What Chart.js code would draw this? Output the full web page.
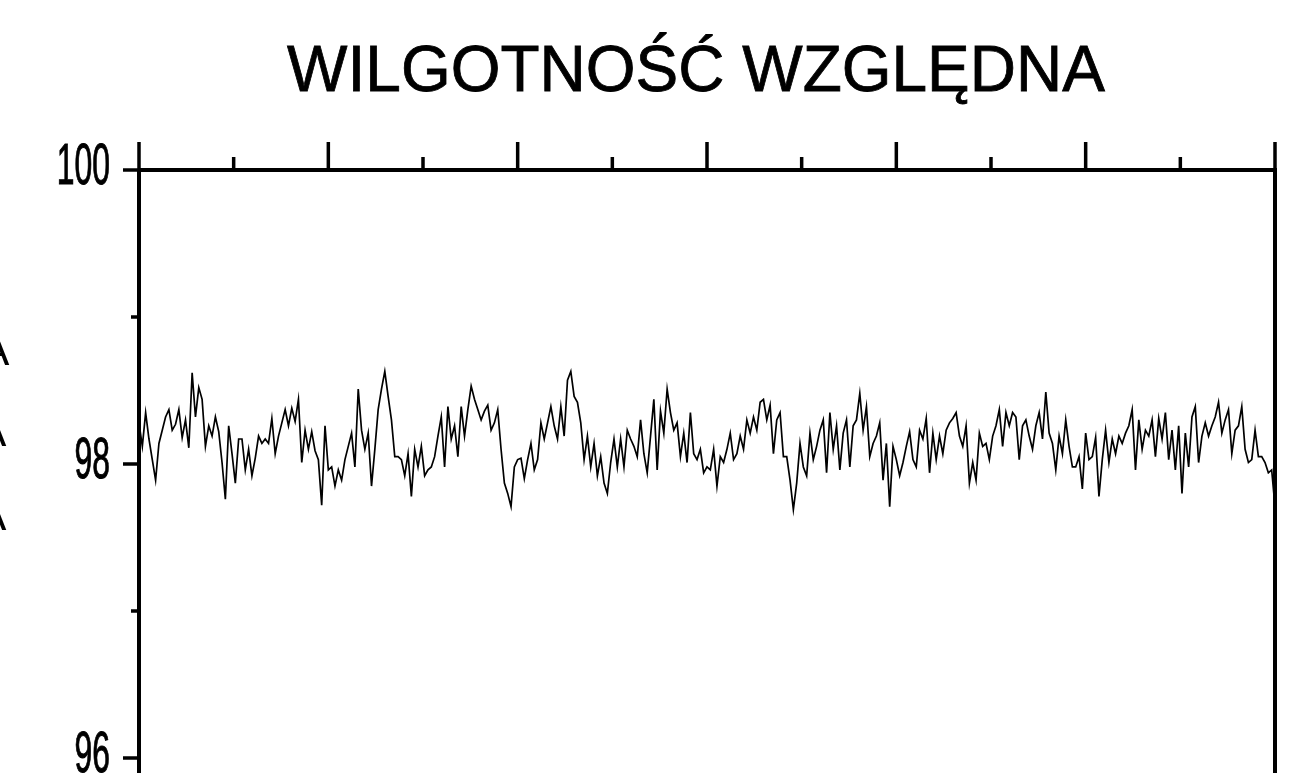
<!DOCTYPE html>
<html>
<head>
<meta charset="utf-8">
<script src="https://cdn.jsdelivr.net/npm/chart.js@4/dist/chart.umd.min.js"></script>
<style>
  html, body { margin:0; padding:0; background:#fff; overflow:hidden; }
  #wrap { width:1314px; height:860px; }
</style>
</head>
<body>
<div id="wrap"><canvas id="rhChart" width="1314" height="860"></canvas></div>
<script>
/* -----------------------
   Dane: wilgotność względna (%), 6 odcinków
   ----------------------- */
const rh1 = [98.28,98.12,98.35,98.17,98.03,97.89,98.14,98.23,98.32,98.37,98.23,98.27,98.37,98.18,98.30,98.11,98.62,98.32,98.52,98.44,98.12,98.26,98.19,98.32,98.22,98.01,97.76,98.26,98.07,97.87,98.17,98.17,97.96,98.10,97.92,98.04,98.19,98.14,98.17,98.14,98.31,98.07,98.19,98.28,98.37,98.26,98.38,98.29,98.44,98.01,98.23,98.10,98.22,98.09,98.03,97.72,98.26];
const rh2 = [97.96,97.98,97.85,97.96,97.89,98.03,98.12,98.21,97.98,98.51,98.23,98.10,98.21,97.85,98.10,98.37,98.51,98.63,98.46,98.30,98.05,98.05,98.03,97.92,98.07,97.78,98.10,97.98,98.12,97.92,97.96,97.98,98.05,98.19,98.32,97.98,98.39,98.17,98.26,98.05,98.39,98.19,98.37,98.53,98.44,98.37,98.30,98.36,98.40,98.23,98.28,98.37,98.10,97.87,97.80,97.71,97.98];
const rh3 = [98.03,98.04,97.90,98.03,98.14,97.96,98.03,98.28,98.17,98.28,98.39,98.26,98.17,98.39,98.19,98.57,98.63,98.46,98.42,98.28,98.03,98.19,97.98,98.14,97.92,98.05,97.87,97.80,98.01,98.17,97.98,98.17,97.98,98.23,98.17,98.12,98.05,98.30,98.07,97.94,98.19,98.44,97.96,98.36,98.21,98.51,98.35,98.23,98.28,98.05,98.21,98.01,98.35,98.07,98.03,98.10,97.94];
const rh4 = [97.98,97.96,98.10,97.85,98.05,98.01,98.10,98.21,98.03,98.07,98.19,98.10,98.30,98.21,98.32,98.23,98.42,98.44,98.30,98.40,98.07,98.30,98.35,98.05,98.05,97.89,97.69,97.87,98.14,97.98,97.92,98.21,98.03,98.12,98.23,98.30,97.94,98.35,98.10,98.26,97.96,98.21,98.30,97.98,98.26,98.30,98.48,98.23,98.39,98.05,98.14,98.19,98.28,97.89,98.14,97.71,98.12];
const rh5 = [98.03,97.92,98.01,98.12,98.22,98.03,97.98,98.23,98.17,98.31,97.94,98.21,98.03,98.19,98.07,98.23,98.28,98.31,98.35,98.19,98.12,98.26,97.87,98.01,97.89,98.21,98.12,98.14,98.03,98.19,98.26,98.37,98.12,98.35,98.26,98.35,98.32,98.03,98.26,98.30,98.19,98.10,98.26,98.35,98.17,98.49,98.21,98.14,97.96,98.19,98.07,98.30,98.12,97.98,97.98,98.05,97.83];
const rh6 = [98.21,98.03,98.05,98.18,97.78,98.03,98.23,98.01,98.17,98.07,98.19,98.14,98.21,98.26,98.37,97.96,98.30,98.10,98.23,98.19,98.30,98.05,98.31,98.17,98.35,98.03,98.23,97.96,98.26,97.80,98.21,97.98,98.32,98.39,98.01,98.19,98.28,98.19,98.26,98.32,98.42,98.21,98.30,98.37,98.07,98.23,98.26,98.39,98.10,98.01,98.03,98.23,98.05,98.05,98.01,97.94,97.96,97.71];

const rhValues = [...rh1, ...rh2, ...rh3, ...rh4, ...rh5, ...rh6];

// osie
const xMajorTicks = [0, 57, 114, 171, 228, 285, 342];
const xMinorTicks = [28.5, 85.5, 142.5, 199.5, 256.5, 313.5];
const yMajorTicks = [96, 98, 100];
const yMinorTicks = [97, 99];
const yTickLabels = ['96', '98', '100'];
const chartTitle = 'WILGOTNOŚĆ WZGLĘDNA';

/* -----------------------
   Rysowanie ramki, podziałek i opisów
   ----------------------- */
const framePlugin = {
  id: 'frame',
  afterDraw(chart){
    const ctx = chart.ctx;
    const a = chart.chartArea;
    const xs = chart.scales.x, ys = chart.scales.y;
    ctx.save();
    ctx.strokeStyle = '#000';
    ctx.fillStyle = '#000';
    ctx.lineCap = 'butt';

    // ramka: lewa, górna, prawa
    ctx.lineWidth = 4;
    ctx.beginPath();
    ctx.moveTo(a.left, a.bottom + 40); ctx.lineTo(a.left, a.top);
    ctx.moveTo(a.left, a.top); ctx.lineTo(a.right + 2, a.top);
    ctx.moveTo(a.right, a.top); ctx.lineTo(a.right, a.bottom + 40);
    ctx.stroke();

    // podziałki górne
    ctx.lineWidth = 3.5;
    ctx.beginPath();
    xMajorTicks.forEach(v => {
      const px = xs.getPixelForValue(v);
      ctx.moveTo(px, a.top); ctx.lineTo(px, a.top - 28);
    });
    xMinorTicks.forEach(v => {
      const px = xs.getPixelForValue(v);
      ctx.moveTo(px, a.top); ctx.lineTo(px, a.top - 13);
    });
    // podziałki lewe
    yMajorTicks.forEach(v => {
      const py = ys.getPixelForValue(v);
      ctx.moveTo(a.left, py); ctx.lineTo(a.left - 16, py);
    });
    yMinorTicks.forEach(v => {
      const py = ys.getPixelForValue(v);
      ctx.moveTo(a.left, py); ctx.lineTo(a.left - 8, py);
    });
    ctx.stroke();

    // etykiety osi Y (wąskie)
    ctx.font = '57px "Liberation Sans", Arial, sans-serif';
    ctx.textAlign = 'right';
    ctx.textBaseline = 'middle';
    ctx.lineWidth = 1;
    yMajorTicks.forEach((v, i) => {
      const py = ys.getPixelForValue(v);
      ctx.save();
      ctx.translate(a.left - 29, py - 2);
      ctx.scale(0.56, 1);
      ctx.fillText(yTickLabels[i], 0, 0);
      ctx.strokeText(yTickLabels[i], 0, 0);
      ctx.restore();
    });

    // tytuł
    ctx.font = '64px "Liberation Sans", Arial, sans-serif';
    ctx.textAlign = 'center';
    ctx.textBaseline = 'alphabetic';
    ctx.fillText(chartTitle, 696, 91);
    ctx.lineWidth = 0.8;
    ctx.strokeText(chartTitle, 696, 91);

    // ucięty opis osi przy lewej krawędzi
    ctx.font = '44px "Liberation Sans", Arial, sans-serif';
    ctx.textAlign = 'left';
    ctx.fillText('A', -20, 365);
    ctx.fillText('A', -23, 446);
    ctx.fillText('A', -23, 530);

    ctx.restore();
  }
};

const ctx = document.getElementById('rhChart').getContext('2d');
const chart = new Chart(ctx, {
  type: 'line',
  data: {
    datasets: [{
      label: chartTitle,
      data: rhValues.map((v, i) => ({x: i, y: v})),
      borderColor: '#000',
      borderWidth: 1.7,
      pointRadius: 0,
      tension: 0,
      fill: false
    }]
  },
  options: {
    animation: false,
    responsive: false,
    devicePixelRatio: 1,
    layout: { padding: { left: 139, top: 170, right: 39, bottom: 28.5 } },
    plugins: { legend: { display: false }, tooltip: { enabled: false }, title: { display: false } },
    scales: {
      x: { type: 'linear', min: 0, max: 342, display: false },
      y: { min: 95.5, max: 100, display: false }
    }
  },
  plugins: [framePlugin]
});
</script>
</body>
</html>
